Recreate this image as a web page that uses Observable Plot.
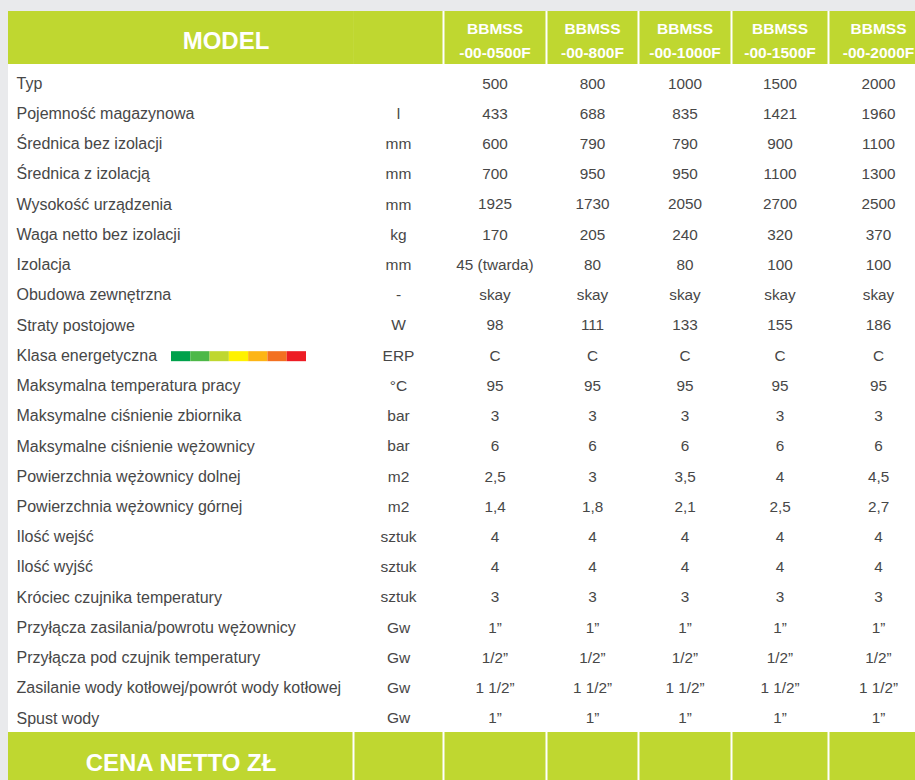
<!DOCTYPE html>
<html><head><meta charset="utf-8">
<script src="https://cdn.jsdelivr.net/npm/d3@7"></script>
<script src="https://cdn.jsdelivr.net/npm/@observablehq/plot@0.6"></script>
<style>
html,body{margin:0;padding:0;background:#e9eaec;overflow:hidden;}
#chart svg{display:block;}
</style></head><body>
<div id="chart"></div>
<script>
// ---------- DATA ----------
const headerTitle = "MODEL";
const footerTitle = "CENA NETTO ZŁ";
const modelNames = ["BBMSS\n-00-0500F", "BBMSS\n-00-800F", "BBMSS\n-00-1000F", "BBMSS\n-00-1500F", "BBMSS\n-00-2000F"];
const rowLabels = [
  "Typ", "Pojemność magazynowa", "Średnica bez izolacji", "Średnica z izolacją",
  "Wysokość urządzenia", "Waga netto bez izolacji", "Izolacja", "Obudowa zewnętrzna",
  "Straty postojowe", "Klasa energetyczna", "Maksymalna temperatura pracy",
  "Maksymalne ciśnienie zbiornika", "Maksymalne ciśnienie wężownicy",
  "Powierzchnia wężownicy dolnej", "Powierzchnia wężownicy górnej", "Ilość wejść",
  "Ilość wyjść", "Króciec czujnika temperatury", "Przyłącza zasilania/powrotu wężownicy",
  "Przyłącza pod czujnik temperatury", "Zasilanie wody kotłowej/powrót wody kotłowej", "Spust wody"
];
const units = ["", "l", "mm", "mm", "mm", "kg", "mm", "-", "W", "ERP", "°C", "bar", "bar", "m2", "m2", "sztuk", "sztuk", "sztuk", "Gw", "Gw", "Gw", "Gw"];
const typ = ["500", "800", "1000", "1500", "2000"];
const pojemnosc = ["433", "688", "835", "1421", "1960"];
const srednicaBez = ["600", "790", "790", "900", "1100"];
const srednicaZ = ["700", "950", "950", "1100", "1300"];
const wysokosc = ["1925", "1730", "2050", "2700", "2500"];
const waga = ["170", "205", "240", "320", "370"];
const izolacja = ["45 (twarda)", "80", "80", "100", "100"];
const obudowa = ["skay", "skay", "skay", "skay", "skay"];
const straty = ["98", "111", "133", "155", "186"];
const klasa = ["C", "C", "C", "C", "C"];
const maxTemp = ["95", "95", "95", "95", "95"];
const cisnienieZb = ["3", "3", "3", "3", "3"];
const cisnienieWez = ["6", "6", "6", "6", "6"];
const powDolnej = ["2,5", "3", "3,5", "4", "4,5"];
const powGornej = ["1,4", "1,8", "2,1", "2,5", "2,7"];
const wejscia = ["4", "4", "4", "4", "4"];
const wyjscia = ["4", "4", "4", "4", "4"];
const krociec = ["3", "3", "3", "3", "3"];
const przylZasil = ["1”", "1”", "1”", "1”", "1”"];
const przylCzujnik = ["1/2”", "1/2”", "1/2”", "1/2”", "1/2”"];
const zasilanieKotl = ["1 1/2”", "1 1/2”", "1 1/2”", "1 1/2”", "1 1/2”"];
const spust = ["1”", "1”", "1”", "1”", "1”"];
const valueRows = [typ, pojemnosc, srednicaBez, srednicaZ, wysokosc, waga, izolacja, obudowa,
  straty, klasa, maxTemp, cisnienieZb, cisnienieWez, powDolnej, powGornej, wejscia, wyjscia,
  krociec, przylZasil, przylCzujnik, zasilanieKotl, spust];
const energyClasses = ["A+++", "A++", "A+", "A", "B", "C", "D"];
const energyRowLabel = "Klasa energetyczna";

// ---------- LAYOUT / STYLE ----------
const W = 915, H = 780;
const green = "#bfd730";
const textColor = "#474747";
const energyColors = ["#00a14b", "#4db848", "#bfd730", "#fff200", "#fdb515", "#f37021", "#ed1c24"];
const tableLeft = 8, tableRight = 930, unitLeft = 353;
const colEdges = [443, 546, 638, 731, 828, 928];
const headerTop = 11, headerBottom = 64, bodyTop = 68, rowH = 30.23, footerTop = 732;
const labelX = 16, unitX = 398;
const energyBar = {x1: 171, x2: 306, h: 10};
const font = "'Liberation Sans', Arial, Helvetica, sans-serif";

const rowY = i => bodyTop + rowH * (i + 0.5);
const colX = j => (colEdges[j] + colEdges[j + 1]) / 2;

const labelData = rowLabels.map((t, i) => ({t, x: labelX, y: rowY(i)}));
const unitData = units.map((t, i) => ({t, x: unitX, y: rowY(i)}));
const cellData = valueRows.flatMap((vals, i) => vals.map((t, j) => ({t, x: colX(j), y: rowY(i)})));
const headerData = modelNames.map((t, j) => ({t, x: colX(j), y: (headerTop + headerBottom) / 2}));
const ei = rowLabels.indexOf(energyRowLabel);
const segW = (energyBar.x2 - energyBar.x1) / energyClasses.length;
const energyData = energyClasses.map((c, k) => ({
  c, x1: energyBar.x1 + k * segW, x2: energyBar.x1 + (k + 1) * segW,
  y1: rowY(ei) - energyBar.h / 2 + 1, y2: rowY(ei) + energyBar.h / 2 + 1, fill: energyColors[k]
}));
const headerSeps = colEdges.slice(0, 5);
const footerSeps = [unitLeft, ...colEdges.slice(0, 5)];

const chart = Plot.plot({
  width: W, height: H, margin: 0,
  x: {type: "linear", domain: [0, W], range: [0, W], axis: null},
  y: {type: "linear", domain: [0, H], range: [0, H], axis: null},
  style: {background: "#e9eaec", fontFamily: font},
  marks: [
    Plot.rect([{}], {x1: tableLeft, x2: tableRight, y1: headerTop, y2: H + 10, fill: "white"}),
    Plot.rect([{}], {x1: tableLeft, x2: tableRight, y1: headerTop, y2: headerBottom, fill: green}),
    Plot.rect([{}], {x1: tableLeft, x2: tableRight, y1: footerTop, y2: H + 10, fill: green}),
    Plot.ruleX(headerSeps, {x: d => d, y1: headerTop, y2: headerBottom, stroke: "white", strokeWidth: 2}),
    Plot.ruleX([unitLeft], {x: d => d, y1: headerTop, y2: headerBottom, stroke: "white", strokeWidth: 1, strokeOpacity: 0.05}),
    Plot.ruleX(footerSeps, {x: d => d, y1: footerTop, y2: H + 10, stroke: "white", strokeWidth: 2}),
    Plot.rect(energyData, {x1: "x1", x2: "x2", y1: "y1", y2: "y2", fill: "fill"}),
    Plot.text([headerTitle], {x: (tableLeft + colEdges[0]) / 2, y: (headerTop + headerBottom) / 2 + 3, text: d => d,
      fill: "white", fontSize: 24, fontWeight: "bold", fontFamily: font}),
    Plot.text(headerData, {x: "x", y: "y", text: "t", fill: "white", fontSize: 15.5, fontWeight: "bold",
      lineHeight: 1.58, fontFamily: font}),
    Plot.text(labelData, {x: "x", y: "y", text: "t", textAnchor: "start", fill: textColor, fontSize: 16, fontFamily: font}),
    Plot.text(unitData, {x: "x", y: "y", text: "t", fill: textColor, fontSize: 15.5, fontFamily: font}),
    Plot.text(cellData, {x: "x", y: "y", text: "t", fill: textColor, fontSize: 15.3, fontFamily: font}),
    Plot.text([footerTitle], {x: (tableLeft + unitLeft) / 2, y: footerTop + 31, text: d => d,
      fill: "white", fontSize: 24, fontWeight: "bold", fontFamily: font})
  ]
});
document.getElementById("chart").append(chart);
</script>
</body></html>
